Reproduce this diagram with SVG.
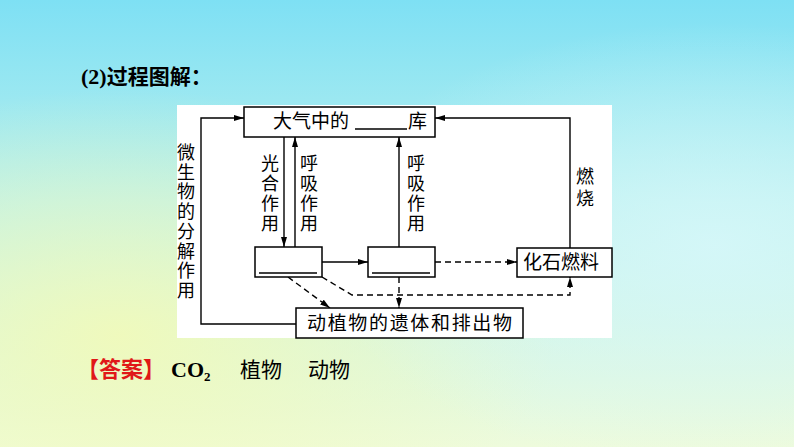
<svg xmlns="http://www.w3.org/2000/svg" width="794" height="447" viewBox="0 0 794 447">
<defs>
<linearGradient id="bg" x1="0" y1="0" x2="0" y2="1">
<stop offset="0" stop-color="#7ee0f4"/>
<stop offset="0.45" stop-color="#b9f0ee"/>
<stop offset="1" stop-color="#eefbdc"/>
</linearGradient>
<radialGradient id="yl" cx="0.15" cy="0.75" r="0.55">
<stop offset="0" stop-color="#f2fab8" stop-opacity="0.9"/>
<stop offset="1" stop-color="#f2fab8" stop-opacity="0"/>
</radialGradient>
<radialGradient id="cy" cx="0.9" cy="0.55" r="0.5">
<stop offset="0" stop-color="#d8f8fb" stop-opacity="0.8"/>
<stop offset="1" stop-color="#d8f8fb" stop-opacity="0"/>
</radialGradient>
<marker id="ah" viewBox="0 0 10 6" refX="10" refY="3" markerWidth="10" markerHeight="6" markerUnits="userSpaceOnUse" orient="auto">
<path d="M0,0 L10,3 L0,6 Z" fill="#000"/>
</marker>
<style>
.box{fill:#fff;stroke:#000;stroke-width:1.5}
.ln{fill:none;stroke:#000;stroke-width:1.4}
.ds{fill:none;stroke:#000;stroke-width:1.4;stroke-dasharray:6,4}
.t{font-family:"Noto Sans CJK SC","Noto Sans",sans-serif;font-size:19px;fill:#000}
.tv{font-family:"Noto Sans CJK SC","Noto Sans",sans-serif;font-size:18px;fill:#000;text-anchor:middle}
</style>
</defs>
<rect width="794" height="447" fill="url(#bg)"/>
<rect width="794" height="447" fill="url(#yl)"/>
<rect width="794" height="447" fill="url(#cy)"/>

<text x="81" y="84" font-family="'Liberation Serif','Noto Sans CJK SC',serif" font-size="22" font-weight="bold">(2)<tspan font-family="'Noto Sans CJK SC',sans-serif" font-weight="bold" font-size="21">过程图解：</tspan></text>

<rect x="177" y="105" width="435" height="233" fill="#fff"/>

<g id="connectors">
<polyline class="ln" points="296,324 201,324 201,118 244,118" marker-end="url(#ah)"/>
<line class="ln" x1="284" y1="137" x2="284" y2="247" marker-end="url(#ah)"/>
<line class="ln" x1="295" y1="247" x2="295" y2="137" marker-end="url(#ah)"/>
<line class="ln" x1="399" y1="247" x2="399" y2="137" marker-end="url(#ah)"/>
<line class="ln" x1="322" y1="262" x2="368" y2="262" marker-end="url(#ah)"/>
<polyline class="ln" points="570,248 570,118 435,118" marker-end="url(#ah)"/>
<line class="ds" x1="435" y1="262" x2="517" y2="262" marker-end="url(#ah)"/>
<polyline class="ds" points="322,277 352,295 570,295 570,277" marker-end="url(#ah)"/>
<line class="ds" x1="288" y1="277" x2="330" y2="308" marker-end="url(#ah)"/>
<line class="ds" x1="399" y1="277" x2="399" y2="308" marker-end="url(#ah)"/>
<text class="tv"><tspan x="186" y="159">微</tspan><tspan x="186" y="179">生</tspan><tspan x="186" y="198">物</tspan><tspan x="186" y="218">的</tspan><tspan x="186" y="238">分</tspan><tspan x="186" y="258">解</tspan><tspan x="186" y="277">作</tspan><tspan x="186" y="297">用</tspan></text>
<text class="tv"><tspan x="270" y="170">光</tspan><tspan x="270" y="190">合</tspan><tspan x="270" y="210">作</tspan><tspan x="270" y="230">用</tspan></text>
<text class="tv"><tspan x="309" y="170">呼</tspan><tspan x="309" y="190">吸</tspan><tspan x="309" y="210">作</tspan><tspan x="309" y="230">用</tspan></text>
<text class="tv"><tspan x="416" y="170">呼</tspan><tspan x="416" y="190">吸</tspan><tspan x="416" y="210">作</tspan><tspan x="416" y="230">用</tspan></text>
<text class="tv"><tspan x="585" y="183">燃</tspan><tspan x="585" y="205">烧</tspan></text>
</g>

<g id="atmosphere">
<rect class="box" x="244" y="107" width="191" height="30"/>
<text class="t" x="273" y="128">大气中的</text>
<line x1="355" y1="129" x2="407" y2="129" stroke="#000" stroke-width="1.3"/>
<text class="t" x="408" y="128">库</text>
</g>

<g id="producer">
<rect class="box" x="255" y="247" width="67" height="30"/>
<line x1="259" y1="273" x2="317" y2="273" stroke="#000" stroke-width="1.3"/>
</g>

<g id="consumer">
<rect class="box" x="368" y="247" width="67" height="30"/>
<line x1="372" y1="273" x2="430" y2="273" stroke="#000" stroke-width="1.3"/>
</g>

<g id="fossil">
<rect class="box" x="517" y="248" width="95" height="29"/>
<text class="t" x="523" y="269" font-size="20">化石燃料</text>
</g>

<g id="remains">
<rect class="box" x="296" y="308" width="227" height="30"/>
<text class="t" x="307" y="330" font-size="20" textLength="205">动植物的遗体和排出物</text>
</g>

<text x="77" y="377" font-family="'Noto Sans CJK SC',sans-serif" font-size="22" font-weight="bold" fill="#e01818">【答案】</text>
<text x="171" y="377" font-family="'Liberation Serif',serif" font-size="22" font-weight="bold" fill="#000">CO<tspan font-size="13" dy="4">2</tspan></text>
<text x="240" y="377" font-family="'Noto Sans CJK SC',sans-serif" font-size="21" fill="#000">植物</text>
<text x="308" y="377" font-family="'Noto Sans CJK SC',sans-serif" font-size="21" fill="#000">动物</text>
</svg>
